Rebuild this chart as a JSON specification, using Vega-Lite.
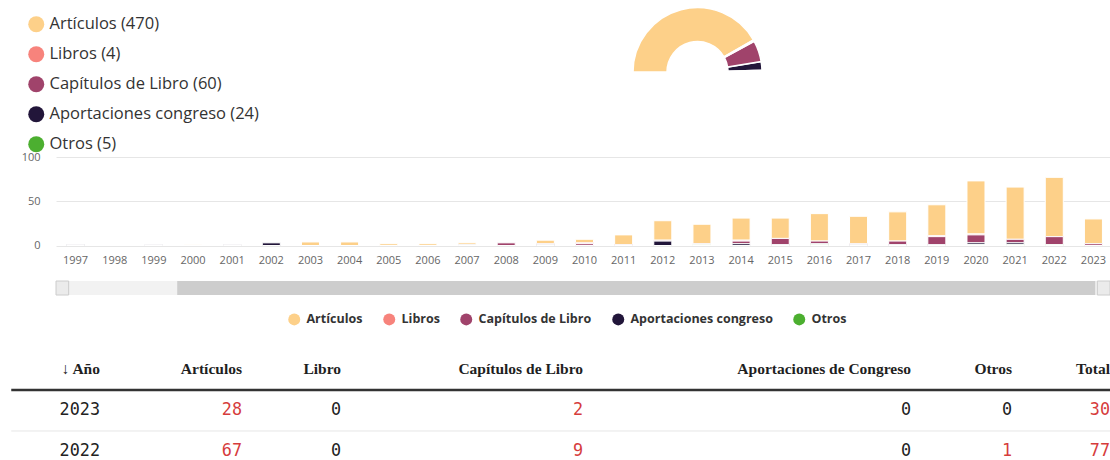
{
  "$schema": "https://vega.github.io/schema/vega-lite/v6.json",
  "padding": {"left": 10, "top": 0, "right": 0, "bottom": 0},
  "autosize": {"type": "pad"},
  "bounds": "flush",
  "spacing": 0,
  "resolve": {"scale": {"color": "independent"}, "legend": {"color": "independent"}},
  "config": {
    "view": {"stroke": null},
    "font": "Open Sans",
    "axis": {"domain": false, "ticks": false, "labelColor": "#666666", "labelFont": "Open Sans", "labelFontSize": 11, "gridColor": "#e6e6e6", "title": null}
  },
  "datasets": {
    "pubs": [
      {"anio": 1997, "tipo": "Aportaciones congreso", "n": 1},
      {"anio": 1998, "tipo": "Artículos", "n": 0},
      {"anio": 1999, "tipo": "Aportaciones congreso", "n": 1},
      {"anio": 2000, "tipo": "Artículos", "n": 1},
      {"anio": 2001, "tipo": "Aportaciones congreso", "n": 1},
      {"anio": 2002, "tipo": "Aportaciones congreso", "n": 3},
      {"anio": 2003, "tipo": "Artículos", "n": 4},
      {"anio": 2004, "tipo": "Artículos", "n": 4},
      {"anio": 2005, "tipo": "Artículos", "n": 2},
      {"anio": 2006, "tipo": "Artículos", "n": 2},
      {"anio": 2007, "tipo": "Artículos", "n": 2},
      {"anio": 2007, "tipo": "Aportaciones congreso", "n": 1},
      {"anio": 2008, "tipo": "Capítulos de Libro", "n": 3},
      {"anio": 2009, "tipo": "Artículos", "n": 4},
      {"anio": 2009, "tipo": "Capítulos de Libro", "n": 1},
      {"anio": 2009, "tipo": "Aportaciones congreso", "n": 1},
      {"anio": 2010, "tipo": "Artículos", "n": 4},
      {"anio": 2010, "tipo": "Libros", "n": 1},
      {"anio": 2010, "tipo": "Capítulos de Libro", "n": 2},
      {"anio": 2011, "tipo": "Artículos", "n": 11},
      {"anio": 2011, "tipo": "Capítulos de Libro", "n": 1},
      {"anio": 2012, "tipo": "Artículos", "n": 22},
      {"anio": 2012, "tipo": "Capítulos de Libro", "n": 1},
      {"anio": 2012, "tipo": "Aportaciones congreso", "n": 5},
      {"anio": 2013, "tipo": "Artículos", "n": 22},
      {"anio": 2013, "tipo": "Capítulos de Libro", "n": 1},
      {"anio": 2013, "tipo": "Otros", "n": 1},
      {"anio": 2014, "tipo": "Artículos", "n": 25},
      {"anio": 2014, "tipo": "Libros", "n": 1},
      {"anio": 2014, "tipo": "Capítulos de Libro", "n": 3},
      {"anio": 2014, "tipo": "Aportaciones congreso", "n": 2},
      {"anio": 2015, "tipo": "Artículos", "n": 23},
      {"anio": 2015, "tipo": "Capítulos de Libro", "n": 7},
      {"anio": 2015, "tipo": "Aportaciones congreso", "n": 1},
      {"anio": 2016, "tipo": "Artículos", "n": 31},
      {"anio": 2016, "tipo": "Capítulos de Libro", "n": 3},
      {"anio": 2016, "tipo": "Aportaciones congreso", "n": 1},
      {"anio": 2016, "tipo": "Otros", "n": 1},
      {"anio": 2017, "tipo": "Artículos", "n": 31},
      {"anio": 2017, "tipo": "Capítulos de Libro", "n": 1},
      {"anio": 2017, "tipo": "Aportaciones congreso", "n": 1},
      {"anio": 2018, "tipo": "Artículos", "n": 33},
      {"anio": 2018, "tipo": "Capítulos de Libro", "n": 4},
      {"anio": 2018, "tipo": "Aportaciones congreso", "n": 1},
      {"anio": 2019, "tipo": "Artículos", "n": 35},
      {"anio": 2019, "tipo": "Libros", "n": 1},
      {"anio": 2019, "tipo": "Capítulos de Libro", "n": 9},
      {"anio": 2019, "tipo": "Aportaciones congreso", "n": 1},
      {"anio": 2020, "tipo": "Artículos", "n": 60},
      {"anio": 2020, "tipo": "Libros", "n": 1},
      {"anio": 2020, "tipo": "Capítulos de Libro", "n": 9},
      {"anio": 2020, "tipo": "Aportaciones congreso", "n": 2},
      {"anio": 2020, "tipo": "Otros", "n": 1},
      {"anio": 2021, "tipo": "Artículos", "n": 59},
      {"anio": 2021, "tipo": "Capítulos de Libro", "n": 4},
      {"anio": 2021, "tipo": "Aportaciones congreso", "n": 2},
      {"anio": 2021, "tipo": "Otros", "n": 1},
      {"anio": 2022, "tipo": "Artículos", "n": 67},
      {"anio": 2022, "tipo": "Capítulos de Libro", "n": 9},
      {"anio": 2022, "tipo": "Otros", "n": 1},
      {"anio": 2023, "tipo": "Artículos", "n": 28},
      {"anio": 2023, "tipo": "Capítulos de Libro", "n": 2}
    ],
    "tabla": [
      {"col": "Año", "fila": "cab", "v": "↓ Año"},
      {"col": "Año", "fila": "2023", "v": "2023"},
      {"col": "Año", "fila": "2022", "v": "2022"},
      {"col": "Artículos", "fila": "cab", "v": "Artículos"},
      {"col": "Artículos", "fila": "2023", "v": "28"},
      {"col": "Artículos", "fila": "2022", "v": "67"},
      {"col": "Libro", "fila": "cab", "v": "Libro"},
      {"col": "Libro", "fila": "2023", "v": "0"},
      {"col": "Libro", "fila": "2022", "v": "0"},
      {"col": "Capítulos de Libro", "fila": "cab", "v": "Capítulos de Libro"},
      {"col": "Capítulos de Libro", "fila": "2023", "v": "2"},
      {"col": "Capítulos de Libro", "fila": "2022", "v": "9"},
      {"col": "Aportaciones de Congreso", "fila": "cab", "v": "Aportaciones de Congreso"},
      {"col": "Aportaciones de Congreso", "fila": "2023", "v": "0"},
      {"col": "Aportaciones de Congreso", "fila": "2022", "v": "0"},
      {"col": "Otros", "fila": "cab", "v": "Otros"},
      {"col": "Otros", "fila": "2023", "v": "0"},
      {"col": "Otros", "fila": "2022", "v": "1"},
      {"col": "Total", "fila": "cab", "v": "Total"},
      {"col": "Total", "fila": "2023", "v": "30"},
      {"col": "Total", "fila": "2022", "v": "77"}
    ],
    "scroll": [
      {"parte": "pista", "ini": 0, "fin": 1},
      {"parte": "barra", "ini": 0.115, "fin": 0.986},
      {"parte": "boton", "ini": 0, "fin": 0.012},
      {"parte": "boton", "ini": 0.988, "fin": 1}
    ]
  },
  "vconcat": [
    {
      "width": 1283, "height": 144,
      "data": {"name": "pubs"},
      "transform": [
        {"aggregate": [{"op": "sum", "field": "n", "as": "total"}], "groupby": ["tipo"]},
        {"calculate": "indexof(['Otros','Aportaciones congreso','Capítulos de Libro','Libros','Artículos'], datum.tipo)", "as": "ord"},
        {"calculate": "datum.tipo + ' (' + datum.total + ')'", "as": "etiqueta"}
      ],
      "mark": {"type": "arc", "radius": 64.5, "radius2": 30.5, "stroke": "#ffffff", "strokeWidth": 1.5},
      "encoding": {
        "theta": {"field": "total", "type": "quantitative", "stack": true, "scale": {"range": [-1.5708, 1.5708]}},
        "order": {"field": "ord", "type": "quantitative", "sort": "descending"},
        "color": {
          "field": "etiqueta", "type": "nominal",
          "sort": {"field": "ord", "op": "min", "order": "descending"},
          "scale": {"range": ["#fdd089", "#f7837c", "#a0436b", "#22163a", "#4caf30"]},
          "legend": {"orient": "none", "legendX": -28, "legendY": 16, "title": null, "symbolType": "circle", "symbolSize": 256, "symbolStrokeWidth": 0, "labelFont": "Open Sans", "labelFontSize": 16.5, "labelColor": "#333333", "rowPadding": 13, "labelOffset": 5, "labelLimit": 400}
        }
      }
    },
    {"width": 1, "height": 13, "data": {"values": []}, "mark": "rule", "encoding": {}},
    {
      "width": 1057, "height": 88.5,
      "data": {"name": "pubs"},
      "transform": [
        {"calculate": "indexof(['Otros','Aportaciones congreso','Capítulos de Libro','Libros','Artículos'], datum.tipo)", "as": "ord"}
      ],
      "mark": {"type": "bar", "stroke": "#ffffff", "strokeWidth": 1},
      "encoding": {
        "x": {"field": "anio", "type": "ordinal", "scale": {"paddingInner": 0.54, "paddingOuter": 0.27}, "axis": {"labelAngle": 0, "labelPadding": 9, "grid": false, "labelOverlap": false}},
        "y": {"field": "n", "type": "quantitative", "stack": "zero", "scale": {"domain": [0, 100]}, "axis": {"values": [0, 50, 100], "labelPadding": 16, "grid": true}},
        "color": {
          "field": "tipo", "type": "nominal",
          "scale": {"domain": ["Artículos", "Libros", "Capítulos de Libro", "Aportaciones congreso", "Otros"], "range": ["#fdd089", "#f7837c", "#a0436b", "#22163a", "#4caf30"]},
          "legend": {"orient": "none", "legendX": 232, "legendY": 156, "direction": "horizontal", "title": null, "symbolType": "circle", "symbolSize": 144, "symbolStrokeWidth": 0, "labelFont": "Open Sans", "labelFontWeight": "bold", "labelFontSize": 12.5, "labelColor": "#333333", "columnPadding": 20, "labelOffset": 6}
        },
        "order": {"field": "ord", "type": "quantitative"},
        "strokeOpacity": {"condition": {"test": "datum.n == 0", "value": 0}, "value": 1}
      }
    },
    {"width": 1, "height": 34.5, "data": {"values": []}, "mark": "rule", "encoding": {}},
    {
      "width": 1054, "height": 14,
      "data": {"name": "scroll"},
      "mark": {"type": "rect"},
      "encoding": {
        "x": {"field": "ini", "type": "quantitative", "scale": {"domain": [0, 1]}, "axis": null},
        "x2": {"field": "fin"},
        "color": {"condition": [{"test": "datum.parte == 'barra'", "value": "#cdcdcd"}, {"test": "datum.parte == 'pista'", "value": "#f2f2f2"}], "value": "#ebebeb"},
        "stroke": {"condition": {"test": "datum.parte == 'boton'", "value": "#cccccc"}, "value": null}
      }
    },
    {"width": 1, "height": 54, "data": {"values": []}, "mark": "rule", "encoding": {}},
    {
      "hconcat": [
        {
          "width": 44, "height": 112, "data": {"name": "tabla"},
          "transform": [{"filter": "datum.col == 'Año'"}],
          "encoding": {"y": {"field": "fila", "type": "nominal", "scale": {"type": "point", "domain": ["cab", "2023", "2022"], "padding": 0.366, "align": 0.683}, "axis": null}},
          "layer": [
            {"transform": [{"filter": "datum.fila != '2022'"}], "mark": {"type": "rule", "yOffset": 20.5, "y2Offset": 20.5, "xOffset": -44.75}, "encoding": {"x": {"value": 0}, "x2": {"value": "width"}, "color": {"condition": {"test": "datum.fila == 'cab'", "value": "#333333"}, "value": "#e6e6e6"}, "strokeWidth": {"condition": {"test": "datum.fila == 'cab'", "value": 2.5}, "value": 1}}},
            {"transform": [{"filter": "datum.fila == 'cab'"}], "mark": {"type": "text", "align": "right", "baseline": "middle", "font": "Liberation Serif", "fontWeight": "bold", "fontSize": 15.5, "color": "#1f1f1f"}, "encoding": {"x": {"value": "width"}, "text": {"field": "v"}}},
            {"transform": [{"filter": "datum.fila != 'cab'"}], "mark": {"type": "text", "align": "right", "baseline": "middle", "font": "DejaVu Sans Mono", "fontSize": 16.8}, "encoding": {"x": {"value": "width"}, "text": {"field": "v"}, "color": {"condition": {"test": "datum.col != 'Año' && toNumber(datum.v) > 0", "value": "#d63c3c"}, "value": "#222222"}}}
          ]
        },
        {
          "width": 142, "height": 112, "data": {"name": "tabla"},
          "transform": [{"filter": "datum.col == 'Artículos'"}],
          "encoding": {"y": {"field": "fila", "type": "nominal", "scale": {"type": "point", "domain": ["cab", "2023", "2022"], "padding": 0.366, "align": 0.683}, "axis": null}},
          "layer": [
            {"transform": [{"filter": "datum.fila != '2022'"}], "mark": {"type": "rule", "yOffset": 20.5}, "encoding": {"color": {"condition": {"test": "datum.fila == 'cab'", "value": "#333333"}, "value": "#e6e6e6"}, "strokeWidth": {"condition": {"test": "datum.fila == 'cab'", "value": 2.5}, "value": 1}}},
            {"transform": [{"filter": "datum.fila == 'cab'"}], "mark": {"type": "text", "align": "right", "baseline": "middle", "font": "Liberation Serif", "fontWeight": "bold", "fontSize": 15.5, "color": "#1f1f1f"}, "encoding": {"x": {"value": "width"}, "text": {"field": "v"}}},
            {"transform": [{"filter": "datum.fila != 'cab'"}], "mark": {"type": "text", "align": "right", "baseline": "middle", "font": "DejaVu Sans Mono", "fontSize": 16.8}, "encoding": {"x": {"value": "width"}, "text": {"field": "v"}, "color": {"condition": {"test": "datum.col != 'Año' && toNumber(datum.v) > 0", "value": "#d63c3c"}, "value": "#222222"}}}
          ]
        },
        {
          "width": 99, "height": 112, "data": {"name": "tabla"},
          "transform": [{"filter": "datum.col == 'Libro'"}],
          "encoding": {"y": {"field": "fila", "type": "nominal", "scale": {"type": "point", "domain": ["cab", "2023", "2022"], "padding": 0.366, "align": 0.683}, "axis": null}},
          "layer": [
            {"transform": [{"filter": "datum.fila != '2022'"}], "mark": {"type": "rule", "yOffset": 20.5}, "encoding": {"color": {"condition": {"test": "datum.fila == 'cab'", "value": "#333333"}, "value": "#e6e6e6"}, "strokeWidth": {"condition": {"test": "datum.fila == 'cab'", "value": 2.5}, "value": 1}}},
            {"transform": [{"filter": "datum.fila == 'cab'"}], "mark": {"type": "text", "align": "right", "baseline": "middle", "font": "Liberation Serif", "fontWeight": "bold", "fontSize": 15.5, "color": "#1f1f1f"}, "encoding": {"x": {"value": "width"}, "text": {"field": "v"}}},
            {"transform": [{"filter": "datum.fila != 'cab'"}], "mark": {"type": "text", "align": "right", "baseline": "middle", "font": "DejaVu Sans Mono", "fontSize": 16.8}, "encoding": {"x": {"value": "width"}, "text": {"field": "v"}, "color": {"condition": {"test": "datum.col != 'Año' && toNumber(datum.v) > 0", "value": "#d63c3c"}, "value": "#222222"}}}
          ]
        },
        {
          "width": 242, "height": 112, "data": {"name": "tabla"},
          "transform": [{"filter": "datum.col == 'Capítulos de Libro'"}],
          "encoding": {"y": {"field": "fila", "type": "nominal", "scale": {"type": "point", "domain": ["cab", "2023", "2022"], "padding": 0.366, "align": 0.683}, "axis": null}},
          "layer": [
            {"transform": [{"filter": "datum.fila != '2022'"}], "mark": {"type": "rule", "yOffset": 20.5}, "encoding": {"color": {"condition": {"test": "datum.fila == 'cab'", "value": "#333333"}, "value": "#e6e6e6"}, "strokeWidth": {"condition": {"test": "datum.fila == 'cab'", "value": 2.5}, "value": 1}}},
            {"transform": [{"filter": "datum.fila == 'cab'"}], "mark": {"type": "text", "align": "right", "baseline": "middle", "font": "Liberation Serif", "fontWeight": "bold", "fontSize": 15.5, "color": "#1f1f1f"}, "encoding": {"x": {"value": "width"}, "text": {"field": "v"}}},
            {"transform": [{"filter": "datum.fila != 'cab'"}], "mark": {"type": "text", "align": "right", "baseline": "middle", "font": "DejaVu Sans Mono", "fontSize": 16.8}, "encoding": {"x": {"value": "width"}, "text": {"field": "v"}, "color": {"condition": {"test": "datum.col != 'Año' && toNumber(datum.v) > 0", "value": "#d63c3c"}, "value": "#222222"}}}
          ]
        },
        {
          "width": 328, "height": 112, "data": {"name": "tabla"},
          "transform": [{"filter": "datum.col == 'Aportaciones de Congreso'"}],
          "encoding": {"y": {"field": "fila", "type": "nominal", "scale": {"type": "point", "domain": ["cab", "2023", "2022"], "padding": 0.366, "align": 0.683}, "axis": null}},
          "layer": [
            {"transform": [{"filter": "datum.fila != '2022'"}], "mark": {"type": "rule", "yOffset": 20.5}, "encoding": {"color": {"condition": {"test": "datum.fila == 'cab'", "value": "#333333"}, "value": "#e6e6e6"}, "strokeWidth": {"condition": {"test": "datum.fila == 'cab'", "value": 2.5}, "value": 1}}},
            {"transform": [{"filter": "datum.fila == 'cab'"}], "mark": {"type": "text", "align": "right", "baseline": "middle", "font": "Liberation Serif", "fontWeight": "bold", "fontSize": 15.5, "color": "#1f1f1f"}, "encoding": {"x": {"value": "width"}, "text": {"field": "v"}}},
            {"transform": [{"filter": "datum.fila != 'cab'"}], "mark": {"type": "text", "align": "right", "baseline": "middle", "font": "DejaVu Sans Mono", "fontSize": 16.8}, "encoding": {"x": {"value": "width"}, "text": {"field": "v"}, "color": {"condition": {"test": "datum.col != 'Año' && toNumber(datum.v) > 0", "value": "#d63c3c"}, "value": "#222222"}}}
          ]
        },
        {
          "width": 101, "height": 112, "data": {"name": "tabla"},
          "transform": [{"filter": "datum.col == 'Otros'"}],
          "encoding": {"y": {"field": "fila", "type": "nominal", "scale": {"type": "point", "domain": ["cab", "2023", "2022"], "padding": 0.366, "align": 0.683}, "axis": null}},
          "layer": [
            {"transform": [{"filter": "datum.fila != '2022'"}], "mark": {"type": "rule", "yOffset": 20.5}, "encoding": {"color": {"condition": {"test": "datum.fila == 'cab'", "value": "#333333"}, "value": "#e6e6e6"}, "strokeWidth": {"condition": {"test": "datum.fila == 'cab'", "value": 2.5}, "value": 1}}},
            {"transform": [{"filter": "datum.fila == 'cab'"}], "mark": {"type": "text", "align": "right", "baseline": "middle", "font": "Liberation Serif", "fontWeight": "bold", "fontSize": 15.5, "color": "#1f1f1f"}, "encoding": {"x": {"value": "width"}, "text": {"field": "v"}}},
            {"transform": [{"filter": "datum.fila != 'cab'"}], "mark": {"type": "text", "align": "right", "baseline": "middle", "font": "DejaVu Sans Mono", "fontSize": 16.8}, "encoding": {"x": {"value": "width"}, "text": {"field": "v"}, "color": {"condition": {"test": "datum.col != 'Año' && toNumber(datum.v) > 0", "value": "#d63c3c"}, "value": "#222222"}}}
          ]
        },
        {
          "width": 98, "height": 112, "data": {"name": "tabla"},
          "transform": [{"filter": "datum.col == 'Total'"}],
          "encoding": {"y": {"field": "fila", "type": "nominal", "scale": {"type": "point", "domain": ["cab", "2023", "2022"], "padding": 0.366, "align": 0.683}, "axis": null}},
          "layer": [
            {"transform": [{"filter": "datum.fila != '2022'"}], "mark": {"type": "rule", "yOffset": 20.5}, "encoding": {"color": {"condition": {"test": "datum.fila == 'cab'", "value": "#333333"}, "value": "#e6e6e6"}, "strokeWidth": {"condition": {"test": "datum.fila == 'cab'", "value": 2.5}, "value": 1}}},
            {"transform": [{"filter": "datum.fila == 'cab'"}], "mark": {"type": "text", "align": "right", "baseline": "middle", "font": "Liberation Serif", "fontWeight": "bold", "fontSize": 15.5, "color": "#1f1f1f"}, "encoding": {"x": {"value": "width"}, "text": {"field": "v"}}},
            {"transform": [{"filter": "datum.fila != 'cab'"}], "mark": {"type": "text", "align": "right", "baseline": "middle", "font": "DejaVu Sans Mono", "fontSize": 16.8}, "encoding": {"x": {"value": "width"}, "text": {"field": "v"}, "color": {"condition": {"test": "datum.col != 'Año' && toNumber(datum.v) > 0", "value": "#d63c3c"}, "value": "#222222"}}}
          ]
        }
      ],
      "spacing": 0,
      "bounds": "flush"
    }
  ]
}
